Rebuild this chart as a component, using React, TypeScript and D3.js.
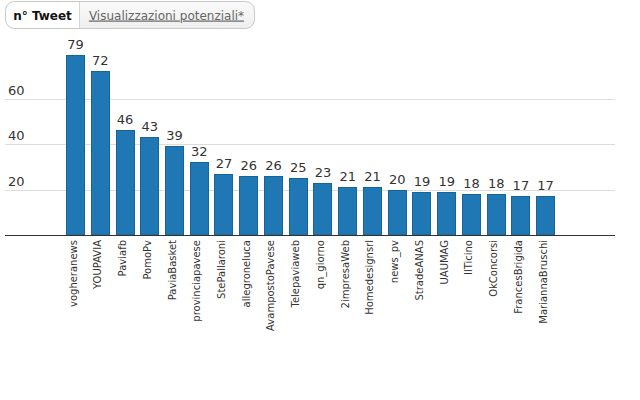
import React from 'react';
import * as d3 from 'd3';

const accounts = [
  'vogheranews', 'YOUPAVIA', 'Paviafb', 'PomoPv', 'PaviaBasket', 'provinciapavese',
  'StePallaroni', 'allegroneluca', 'AvampostoPavese', 'Telepaviaweb', 'qn_giorno',
  '2impresaWeb', 'Homedesignsrl', 'news_pv', 'StradeANAS', 'UAUMAG', 'IlTicino',
  'OkConcorsi', 'FrancesBrigida', 'MariannaBruschi',
];
const tweets = [79, 72, 46, 43, 39, 32, 27, 26, 26, 25, 23, 21, 21, 20, 19, 19, 18, 18, 17, 17];
const yTicks = [20, 40, 60];
const tabLabels = ['n° Tweet', 'Visualizzazioni potenziali*'];

const W = 640;
const H = 400;
const font = '"DejaVu Sans", sans-serif';

const App: React.FC = () => {
  const baseY = 235;
  const left = 5;
  const right = 615;

  const x = d3.scaleBand<string>()
    .domain(accounts)
    .range([63.2, 558])
    .paddingInner(0.23)
    .paddingOuter(0.115);

  const y = d3.scaleLinear()
    .domain([0, 80])
    .range([baseY, baseY - 182]);

  return (
    <div style={{ position: 'absolute', left: 0, top: 0 }}>
      <svg width={W} height={H} style={{ display: 'block', fontFamily: font }}>
        <rect width={W} height={H} fill="#fff" />

        {/* toggle buttons */}
        <defs>
          <clipPath id="tabs-clip">
            <rect x={5.5} y={1.5} width={249} height={27} rx={9} />
          </clipPath>
          <linearGradient id="tab-off" x1="0" x2="0" y1="0" y2="1">
            <stop offset="0%" stopColor="#fafafa" />
            <stop offset="100%" stopColor="#eeeeee" />
          </linearGradient>
        </defs>
        <g clipPath="url(#tabs-clip)">
          <rect x={5} y={1} width={75} height={28} fill="#fff" />
          <rect x={79.5} y={1} width={176} height={28} fill="url(#tab-off)" />
          <line x1={79.5} x2={79.5} y1={1} y2={29} stroke="#d4d4d4" />
        </g>
        <rect x={5.5} y={1.5} width={249} height={27} rx={9} fill="none" stroke="#c8c8c8" />
        <text x={42.5} y={19.5} textAnchor="middle" fontSize={12} fontWeight="bold" fill="#111">
          {tabLabels[0]}
        </text>
        <text x={166.5} y={19.5} textAnchor="middle" fontSize={12} fill="#666" textDecoration="underline">
          {tabLabels[1]}
        </text>

        {/* grid */}
        {yTicks.map(t => (
          <g key={t}>
            <line x1={left} x2={right} y1={Math.round(y(t)) + 0.5} y2={Math.round(y(t)) + 0.5} stroke="#dddddd" />
            <text x={8} y={y(t) - 4} fontSize={13} fill="#333">{t}</text>
          </g>
        ))}

        {/* bars */}
        {accounts.map((a, i) => {
          const bx = x(a) as number;
          const bw = x.bandwidth();
          const top = y(tweets[i]);
          const cx = bx + bw / 2;
          return (
            <g key={a}>
              <rect
                x={Math.round(bx) + 0.5}
                y={Math.round(top) + 0.5}
                width={Math.round(bw) - 1}
                height={baseY - Math.round(top) - 0.5}
                fill="#1f77b4"
                stroke="#17649a"
              />
              <text x={cx} y={top - 6} textAnchor="middle" fontSize={13} fill="#333">
                {tweets[i]}
              </text>
              <text
                transform={`translate(${cx + 1}, 240) rotate(-90)`}
                textAnchor="end"
                fontSize={10}
                fill="#333"
              >
                {a}
              </text>
            </g>
          );
        })}

        {/* axis line */}
        <line x1={left} x2={right} y1={baseY + 0.5} y2={baseY + 0.5} stroke="#333" />
      </svg>
    </div>
  );
};

export default App;
